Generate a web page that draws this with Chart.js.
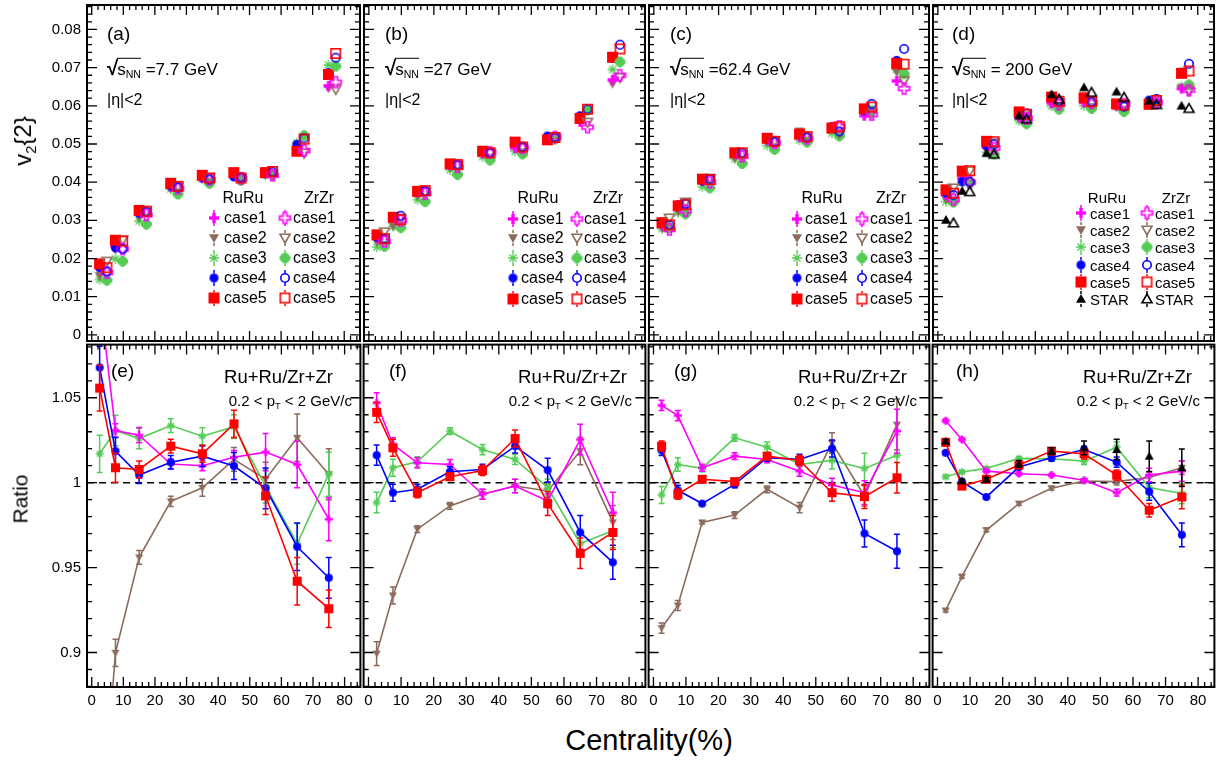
<!DOCTYPE html>
<html>
<head>
<meta charset="utf-8">
<script src="https://cdn.jsdelivr.net/npm/chart.js@4.4.1/dist/chart.umd.min.js"></script>
<style>
html, body { margin: 0; padding: 0; background: #fff; }
#wrap { position: relative; width: 1232px; height: 761px; overflow: hidden;
        font-family: "Liberation Sans", Arial, sans-serif; color: #000; }
#wrap canvas { position: absolute; }
.t { position: absolute; white-space: nowrap; line-height: 1; }
.t sub { font-size: 0.62em; vertical-align: -0.35em; line-height: 0; }
.ov { border-top: 1.5px solid #000; padding-top: 1px; margin-left: -1px; }
.rad { font-size: 1.2em; font-weight: bold; }
</style>
</head>
<body>
<div id="wrap"></div>
<script>
// centrality bin centres (%), ZrZr points are drawn shifted a little to the right
const cent = [2.5, 7.5, 15, 25, 35, 45, 55, 65, 75];
const zrShift = 2.3;

const xTicks = [0, 10, 20, 30, 40, 50, 60, 70, 80];
const xTickLabels = ["0", "10", "20", "30", "40", "50", "60", "70", "80"];
const v2Ticks = [0, 0.01, 0.02, 0.03, 0.04, 0.05, 0.06, 0.07, 0.08];
const v2TickLabels = ["0", "0.01", "0.02", "0.03", "0.04", "0.05", "0.06", "0.07", "0.08"];
const ratioTicks = [0.9, 0.95, 1, 1.05];
const ratioTickLabels = ["0.9", "0.95", "1", "1.05"];

const energies = ["=7.7 GeV", "=27 GeV", "=62.4 GeV", "= 200 GeV"];
const caseNames = ["case1", "case2", "case3", "case4", "case5", "STAR"];

// ---- v2{2}, 7.7 GeV ----
const ru1_77 = [0.0180, 0.0232, 0.0323, 0.0388, 0.0411, 0.0416, 0.0425, 0.0488, 0.0652];
const zr1_77 = [0.0163, 0.0225, 0.0314, 0.0384, 0.0407, 0.0410, 0.0418, 0.0483, 0.0662];
const ru2_77 = [0.0155, 0.0224, 0.0308, 0.0384, 0.0411, 0.0416, 0.0421, 0.0488, 0.0646];
const zr2_77 = [0.0193, 0.0249, 0.0322, 0.0388, 0.0412, 0.0410, 0.0420, 0.0476, 0.0643];
const ru3_77 = [0.0145, 0.0199, 0.0298, 0.0382, 0.0408, 0.0418, 0.0419, 0.0503, 0.0707];
const zr3_77 = [0.0143, 0.0193, 0.0290, 0.0369, 0.0397, 0.0405, 0.0420, 0.0522, 0.0704];
const ru4_77 = [0.0176, 0.0228, 0.0319, 0.0390, 0.0412, 0.0414, 0.0422, 0.0499, 0.0687];
const zr4_77 = [0.0166, 0.0225, 0.0323, 0.0386, 0.0407, 0.0412, 0.0427, 0.0515, 0.0726];
const ru5_77 = [0.0186, 0.0248, 0.0326, 0.0397, 0.0418, 0.0425, 0.0425, 0.0481, 0.0682];
const zr5_77 = [0.0176, 0.0246, 0.0324, 0.0389, 0.0411, 0.0411, 0.0428, 0.0513, 0.0737];

// ---- v2{2}, 27 GeV ----
const ru1_27 = [0.0256, 0.0307, 0.0374, 0.0445, 0.0475, 0.0489, 0.0513, 0.0558, 0.0668];
const zr1_27 = [0.0245, 0.0300, 0.0370, 0.0440, 0.0478, 0.0490, 0.0518, 0.0544, 0.0680];
const ru2_27 = [0.0243, 0.0285, 0.0364, 0.0438, 0.0473, 0.0489, 0.0513, 0.0567, 0.0658];
const zr2_27 = [0.0270, 0.0305, 0.0374, 0.0444, 0.0476, 0.0490, 0.0516, 0.0557, 0.0674];
const ru3_27 = [0.0230, 0.0284, 0.0354, 0.0432, 0.0467, 0.0481, 0.0512, 0.0568, 0.0695];
const zr3_27 = [0.0232, 0.0281, 0.0349, 0.0420, 0.0458, 0.0474, 0.0513, 0.0589, 0.0715];
const ru4_27 = [0.0256, 0.0310, 0.0375, 0.0449, 0.0481, 0.0503, 0.0521, 0.0574, 0.0724];
const zr4_27 = [0.0252, 0.0312, 0.0377, 0.0446, 0.0477, 0.0492, 0.0517, 0.0591, 0.0760];
const ru5_27 = [0.0262, 0.0308, 0.0376, 0.0448, 0.0481, 0.0505, 0.0511, 0.0567, 0.0727];
const zr5_27 = [0.0252, 0.0302, 0.0378, 0.0446, 0.0477, 0.0492, 0.0517, 0.0591, 0.0749];

// ---- v2{2}, 62.4 GeV ----
const ru1_62 = [0.0289, 0.0338, 0.0404, 0.0475, 0.0510, 0.0518, 0.0545, 0.0574, 0.0665];
const zr1_62 = [0.0276, 0.0325, 0.0400, 0.0468, 0.0503, 0.0515, 0.0546, 0.0577, 0.0645];
const ru2_62 = [0.0280, 0.0323, 0.0400, 0.0463, 0.0506, 0.0533, 0.0540, 0.0575, 0.0689];
const zr2_62 = [0.0306, 0.0348, 0.0410, 0.0472, 0.0508, 0.0520, 0.0528, 0.0580, 0.0666];
const ru3_62 = [0.0278, 0.0320, 0.0388, 0.0461, 0.0496, 0.0510, 0.0528, 0.0592, 0.0695];
const zr3_62 = [0.0280, 0.0317, 0.0385, 0.0449, 0.0486, 0.0505, 0.0521, 0.0587, 0.0684];
const ru4_62 = [0.0293, 0.0341, 0.0403, 0.0476, 0.0512, 0.0524, 0.0544, 0.0587, 0.0719];
const zr4_62 = [0.0288, 0.0343, 0.0408, 0.0477, 0.0505, 0.0517, 0.0533, 0.0605, 0.0749];
const ru5_62 = [0.0294, 0.0338, 0.0408, 0.0477, 0.0515, 0.0526, 0.0542, 0.0592, 0.0711];
const zr5_62 = [0.0288, 0.0341, 0.0407, 0.0477, 0.0507, 0.0519, 0.0545, 0.0597, 0.0709];

// ---- v2{2}, 200 GeV ----
const ru1_200 = [0.0367, 0.0410, 0.0492, 0.0570, 0.0607, 0.0609, 0.0600, 0.0611, 0.0645];
const zr1_200 = [0.0354, 0.0400, 0.0489, 0.0567, 0.0604, 0.0608, 0.0604, 0.0608, 0.0641];
const ru2_200 = [0.0356, 0.0406, 0.0489, 0.0567, 0.0604, 0.0607, 0.0600, 0.0607, 0.0646];
const zr2_200 = [0.0385, 0.0430, 0.0503, 0.0574, 0.0606, 0.0606, 0.0600, 0.0605, 0.0640];
const ru3_200 = [0.0349, 0.0400, 0.0478, 0.0561, 0.0599, 0.0600, 0.0597, 0.0606, 0.0651];
const zr3_200 = [0.0348, 0.0398, 0.0474, 0.0553, 0.0591, 0.0593, 0.0585, 0.0608, 0.0655];
const ru4_200 = [0.0372, 0.0401, 0.0495, 0.0585, 0.0621, 0.0622, 0.0605, 0.0615, 0.0688];
const zr4_200 = [0.0366, 0.0401, 0.0499, 0.0580, 0.0612, 0.0610, 0.0598, 0.0618, 0.0710];
const ru5_200 = [0.0380, 0.0429, 0.0507, 0.0584, 0.0623, 0.0621, 0.0605, 0.0604, 0.0685];
const zr5_200 = [0.0371, 0.0430, 0.0506, 0.0578, 0.0612, 0.0611, 0.0602, 0.0614, 0.0691];
const starRu_200 = [0.0301, 0.0377, 0.0476, 0.0574, 0.0630, 0.0648, 0.0637, 0.0613, 0.0600];
const starZr_200 = [0.0293, 0.0375, 0.0473, 0.0565, 0.0617, 0.0635, 0.0622, 0.0603, 0.0593];

// ---- Ru+Ru/Zr+Zr ratios and errors ----
const r1_77 = [1.110, 1.0307, 1.028, 1.011, 1.010, 1.015, 1.018, 1.0107, 0.9785];
const r2_77 = [0.780, 0.8998, 0.956, 0.989, 0.997, 1.0137, 1.002, 1.0264, 1.005];
const r3_77 = [1.017, 1.0307, 1.026, 1.0336, 1.0274, 1.033, 0.998, 0.964, 1.005];
const r4_77 = [1.0678, 1.0186, 1.0045, 1.012, 1.0156, 1.0098, 0.9967, 0.9623, 0.944];
const r5_77 = [1.0557, 1.0088, 1.0078, 1.0215, 1.017, 1.0346, 0.9922, 0.942, 0.9258];
const e1_77 = [0.012, 0.004, 0.0045, 0.003, 0.003, 0.004, 0.011, 0.0137, 0.0127];
const e2_77 = [0.020, 0.008, 0.004, 0.003, 0.005, 0.007, 0.010, 0.014, 0.015];
const e3_77 = [0.011, 0.009, 0.006, 0.004, 0.005, 0.007, 0.010, 0.012, 0.013];
const e4_77 = [0.0125, 0.008, 0.005, 0.004, 0.006, 0.008, 0.012, 0.014, 0.012];
const e5_77 = [0.0135, 0.0085, 0.005, 0.004, 0.005, 0.008, 0.011, 0.014, 0.011];

const r1_27 = [1.047, 1.0225, 1.0117, 1.0107, 0.9932, 0.998, 0.9893, 1.0254, 0.9824];
const r2_27 = [0.8994, 0.9336, 0.9726, 0.9863, 0.9932, 0.998, 0.9951, 1.0186, 0.9766];
const r3_27 = [0.9883, 1.0088, 1.0123, 1.0303, 1.0195, 1.0137, 0.9971, 0.9642, 0.9717];
const r4_27 = [1.0162, 0.9941, 0.9961, 1.0064, 1.0078, 1.0215, 1.0074, 0.9707, 0.9531];
const r5_27 = [1.0414, 1.0205, 0.9941, 1.0035, 1.0072, 1.026, 0.9877, 0.9584, 0.9707];
const e1_27 = [0.006, 0.004, 0.003, 0.003, 0.003, 0.004, 0.004, 0.009, 0.012];
const e2_27 = [0.007, 0.005, 0.002, 0.002, 0.003, 0.004, 0.004, 0.008, 0.010];
const e3_27 = [0.006, 0.005, 0.003, 0.002, 0.003, 0.003, 0.005, 0.007, 0.010];
const e4_27 = [0.006, 0.005, 0.003, 0.003, 0.003, 0.004, 0.007, 0.010, 0.010];
const e5_27 = [0.006, 0.005, 0.003, 0.002, 0.003, 0.005, 0.007, 0.009, 0.010];

const r1_62 = [1.0455, 1.0395, 1.0088, 1.0156, 1.0137, 1.0068, 0.9986, 0.9941, 1.0303];
const r2_62 = [0.9144, 0.9277, 0.9766, 0.9809, 0.9961, 0.9853, 1.0234, 0.9922, 1.0342];
const r3_62 = [0.9928, 1.0107, 1.0084, 1.0264, 1.0209, 1.0107, 1.0131, 1.0084, 1.0162];
const r4_62 = [1.019, 0.9955, 0.9877, 0.999, 1.0147, 1.0137, 1.0201, 0.9701, 0.9596];
const r5_62 = [1.0215, 0.9932, 1.002, 1.0006, 1.0156, 1.0131, 0.9941, 0.9918, 1.0029];
const e1_62 = [0.003, 0.003, 0.002, 0.002, 0.002, 0.003, 0.004, 0.007, 0.013];
const e2_62 = [0.003, 0.003, 0.001, 0.002, 0.002, 0.003, 0.006, 0.006, 0.015];
const e3_62 = [0.005, 0.004, 0.002, 0.002, 0.003, 0.003, 0.005, 0.009, 0.012];
const e4_62 = [0.003, 0.003, 0.001, 0.002, 0.002, 0.003, 0.005, 0.008, 0.010];
const e5_62 = [0.003, 0.003, 0.002, 0.002, 0.002, 0.003, 0.005, 0.007, 0.009];

const r1_200 = [1.0365, 1.0254, 1.0068, 1.0053, 1.0045, 1.0014, 0.9941, 1.0045, 1.0068];
const r2_200 = [0.9248, 0.9447, 0.9721, 0.9877, 0.9967, 1.001, 1.0006, 1.003, 1.0088];
const r3_200 = [1.0035, 1.0063, 1.0084, 1.0143, 1.0141, 1.0127, 1.0209, 0.9971, 0.9936];
const r4_200 = [1.0176, 1.0006, 0.9916, 1.0092, 1.0147, 1.0195, 1.0121, 0.9947, 0.9693];
const r5_200 = [1.0238, 0.998, 1.002, 1.0104, 1.0186, 1.017, 1.0045, 0.9838, 0.9916];
const rStar_200 = [1.0244, 1.001, 1.002, 1.0111, 1.0186, 1.0205, 1.0195, 1.0156, 1.0088];
const e1_200 = [0.001, 0.001, 0.001, 0.001, 0.001, 0.001, 0.002, 0.004, 0.006];
const e2_200 = [0.001, 0.001, 0.001, 0.001, 0.001, 0.001, 0.002, 0.003, 0.004];
const e3_200 = [0.001, 0.001, 0.001, 0.001, 0.001, 0.002, 0.003, 0.006, 0.006];
const e4_200 = [0.001, 0.001, 0.001, 0.001, 0.002, 0.002, 0.003, 0.005, 0.007];
const e5_200 = [0.002, 0.001, 0.001, 0.001, 0.002, 0.003, 0.003, 0.004, 0.007];
const eStar_200 = [0.001, 0.001, 0.001, 0.002, 0.002, 0.004, 0.006, 0.009, 0.011];

// ---- layout ----
const FONT = '"Liberation Sans", Arial, sans-serif';
const colL = [87, 362, 647, 931];
const colW = [275, 285, 284, 285];
const rowT = [3, 343];
const rowH = [340, 344];
const caseColors = ["#ff00ff", "#8b6b5b", "#55cc55", "#0000ff", "#ff0000", "#000000"];

const wrap = document.getElementById("wrap");

// ROOT-like marker glyphs, drawn once into small canvases
function marker(kind, color, s) {
  const c = document.createElement("canvas");
  const n = Math.ceil(s + 6);
  c.width = n; c.height = n;
  const g = c.getContext("2d");
  const m = n / 2, h = s / 2, t = s / 3;
  g.fillStyle = color; g.strokeStyle = color; g.lineWidth = 1.6;
  g.beginPath();
  if (kind === "sqF") g.fillRect(m - h, m - h, s, s);
  else if (kind === "sqO") g.strokeRect(m - h + 0.8, m - h + 0.8, s - 1.6, s - 1.6);
  else if (kind === "ciF") { g.arc(m, m, h, 0, 2 * Math.PI); g.fill(); }
  else if (kind === "ciO") { g.arc(m, m, h - 0.8, 0, 2 * Math.PI); g.stroke(); }
  else if (kind === "tdF" || kind === "tdO") {
    g.moveTo(m - h, m - h * 0.75); g.lineTo(m + h, m - h * 0.75); g.lineTo(m, m + h); g.closePath();
    kind === "tdF" ? g.fill() : g.stroke();
  } else if (kind === "tuF" || kind === "tuO") {
    g.moveTo(m - h, m + h * 0.75); g.lineTo(m + h, m + h * 0.75); g.lineTo(m, m - h); g.closePath();
    kind === "tuF" ? g.fill() : g.stroke();
  } else if (kind === "plF") {
    g.fillRect(m - t / 2, m - h, t, s); g.fillRect(m - h, m - t / 2, s, t);
  } else if (kind === "plO") {
    const a = t / 2;
    g.moveTo(m - a, m - h); g.lineTo(m + a, m - h); g.lineTo(m + a, m - a); g.lineTo(m + h, m - a);
    g.lineTo(m + h, m + a); g.lineTo(m + a, m + a); g.lineTo(m + a, m + h); g.lineTo(m - a, m + h);
    g.lineTo(m - a, m + a); g.lineTo(m - h, m + a); g.lineTo(m - h, m - a); g.lineTo(m - a, m - a);
    g.closePath(); g.stroke();
  } else if (kind === "stF") {
    g.fillRect(m - t / 2, m - h, t, s); g.fillRect(m - h, m - t / 2, s, t);
    g.translate(m, m); g.rotate(Math.PI / 4);
    g.fillRect(-t / 2, -h * 0.9, t, s * 0.9); g.fillRect(-h * 0.9, -t / 2, s * 0.9, t);
  } else if (kind === "stO") {
    g.lineWidth = 1.3;
    for (let k = 0; k < 4; k++) {
      const an = k * Math.PI / 4;
      g.moveTo(m - Math.cos(an) * h, m - Math.sin(an) * h);
      g.lineTo(m + Math.cos(an) * h, m + Math.sin(an) * h);
    }
    g.stroke();
  }
  return c;
}

const ruMk = [["plF", 10], ["tdF", 10], ["stO", 10], ["ciF", 9], ["sqF", 11], ["tuF", 10]];
const zrMk = [["plO", 11], ["tdO", 10], ["stF", 11], ["ciO", 10], ["sqO", 11], ["tuO", 10]];
const ratioMk = [["plF", 8], ["tdF", 8], ["stO", 8], ["ciF", 8], ["sqF", 9], ["tuF", 9]];

// legend boxes (page coordinates)
const legends = [
  { ruX: 214, zrX: 285, ruT: 224, zrT: 293, ruH: 243, zrH: 319, headY: 198, rows: [218, 238, 258, 278, 298], fs: 16 },
  { ruX: 513, zrX: 577, ruT: 521, zrT: 584, ruH: 538, zrH: 608, headY: 198, rows: [219, 238, 258, 278, 299], fs: 16 },
  { ruX: 797, zrX: 862, ruT: 805, zrT: 870, ruH: 822, zrH: 891, headY: 198, rows: [219, 238, 258, 278, 299], fs: 16 },
  { ruX: 1081, zrX: 1147, ruT: 1090, zrT: 1155, ruH: 1107, zrH: 1176, headY: 197, rows: [213, 230, 247, 265, 282, 299], fs: 15 }
];
const panelInfo = [];

const rootFrame = {
  id: "rootFrame",
  beforeDatasetsDraw(chart, args, opts) {
    if (!opts.unity) return;
    const { ctx, chartArea: a } = chart;
    const y = chart.scales.y.getPixelForValue(1);
    ctx.save();
    ctx.strokeStyle = "#000"; ctx.lineWidth = 1.6; ctx.setLineDash([7, 5]);
    ctx.beginPath(); ctx.moveTo(a.left, y); ctx.lineTo(a.right, y); ctx.stroke();
    ctx.restore();
  },
  beforeDatasetDraw(chart, args) {
    const ds = chart.data.datasets[args.index];
    if (!ds.errs) return;
    const { ctx, chartArea: a } = chart;
    const xs = chart.scales.x, ys = chart.scales.y;
    ctx.save();
    ctx.beginPath(); ctx.rect(a.left, a.top, a.right - a.left, a.bottom - a.top); ctx.clip();
    ctx.strokeStyle = ds.errColor; ctx.lineWidth = 1.5;
    ctx.beginPath();
    ds.data.forEach((p, i) => {
      const e = ds.errs[i];
      const x = xs.getPixelForValue(p.x);
      const y1 = ys.getPixelForValue(p.y - e), y2 = ys.getPixelForValue(p.y + e);
      ctx.moveTo(x, y1); ctx.lineTo(x, y2);
      ctx.moveTo(x - 3, y1); ctx.lineTo(x + 3, y1);
      ctx.moveTo(x - 3, y2); ctx.lineTo(x + 3, y2);
    });
    ctx.stroke();
    ctx.restore();
  },
  afterDatasetsDraw(chart, args, opts) {
    const { ctx, chartArea: a } = chart;
    const xs = chart.scales.x, ys = chart.scales.y;
    ctx.save();
    ctx.strokeStyle = "#000";
    ctx.lineWidth = 1.3;
    ctx.beginPath();
    for (let v = 0; v <= 84; v += 2) {
      const px = xs.getPixelForValue(v), len = v % 10 === 0 ? 10 : 5;
      ctx.moveTo(px, a.bottom); ctx.lineTo(px, a.bottom - len);
      ctx.moveTo(px, a.top); ctx.lineTo(px, a.top + len);
    }
    const step = opts.unity ? 0.01 : 0.002;
    const start = opts.unity ? 88 : 0, end = opts.unity ? 108 : 43;
    for (let k = start; k <= end; k++) {
      const v = k * step, py = ys.getPixelForValue(v);
      const len = k % 5 === 0 ? 10 : 5;
      ctx.moveTo(a.left, py); ctx.lineTo(a.left + len, py);
      ctx.moveTo(a.right, py); ctx.lineTo(a.right - len, py);
    }
    ctx.stroke();
    ctx.lineWidth = 2;
    ctx.strokeRect(a.left, a.top, a.right - a.left, a.bottom - a.top);
    // legend glyphs
    const info = panelInfo[opts.idx];
    if (info && info.legend) {
      const lg = info.legend;
      lg.rows.forEach((ry, i) => {
        [[lg.ruX, ruMk[i]], [lg.zrX, zrMk[i]]].forEach(([lx, mk]) => {
          const x = lx - info.ox, y = ry - info.oy, hs = mk[1] / 2;
          ctx.strokeStyle = caseColors[i]; ctx.lineWidth = 1.5;
          ctx.beginPath();
          ctx.moveTo(x, y - 8); ctx.lineTo(x, y - hs);
          ctx.moveTo(x, y + hs); ctx.lineTo(x, y + 8);
          ctx.stroke();
          const img = marker(mk[0], caseColors[i], mk[1]);
          ctx.drawImage(img, x - img.width / 2, y - img.height / 2);
        });
      });
    }
    ctx.restore();
  }
};

function makePanel(col, row, datasets, yMin, yMax, yTicks, yLabels, legend) {
  const L = colL[col], T = rowT[row], W = colW[col], H = rowH[row];
  const showY = col === 0, showX = row === 1;
  const padL = showY ? 80 : 4, padR = 4, padT = 4, padB = showX ? 32 : 4;
  const cw = W + padL + padR, ch = H + padT + padB;
  const cv = document.createElement("canvas");
  cv.width = cw; cv.height = ch;
  cv.style.left = (L - padL) + "px"; cv.style.top = (T - padT) + "px";
  cv.style.width = cw + "px"; cv.style.height = ch + "px";
  wrap.appendChild(cv);
  const idx = panelInfo.length;
  panelInfo.push({ legend, ox: L - padL, oy: T - padT });
  const font = { family: FONT, size: 15 };
  new Chart(cv, {
    type: "scatter",
    data: { datasets },
    options: {
      responsive: false, animation: false, events: [],
      layout: { padding: { left: showY ? 0 : padL, right: padR, top: padT, bottom: showX ? 0 : padB } },
      plugins: { legend: { display: false }, tooltip: { enabled: false }, rootFrame: { idx, unity: row === 1 } },
      scales: {
        x: {
          type: "linear", min: -1.5, max: 85, display: showX,
          grid: { display: false, drawTicks: false }, border: { display: false },
          afterBuildTicks: s => { s.ticks = xTicks.map(v => ({ value: v })); },
          ticks: { font, color: "#000", padding: 5, maxRotation: 0, autoSkip: false,
                   callback: (v, i) => xTickLabels[i] },
          afterFit: s => { s.height = showX ? padB : 0; s.paddingLeft = 0; s.paddingRight = 0; }
        },
        y: {
          type: "linear", min: yMin, max: yMax, display: showY,
          grid: { display: false, drawTicks: false }, border: { display: false },
          afterBuildTicks: s => { s.ticks = yTicks.map(v => ({ value: v })); },
          ticks: { font, color: "#000", padding: 6, autoSkip: false,
                   callback: (v, i) => yLabels[i] },
          afterFit: s => { s.width = showY ? padL : 0; s.paddingTop = 0; s.paddingBottom = 0; }
        }
      }
    },
    plugins: [rootFrame]
  });
}

function pts(vals, shift) {
  return vals.map((v, i) => ({ x: cent[i] + shift, y: v }));
}

function topSets(ru, zr) {
  const drawOrder = [2, 1, 0, 3, 4];
  const out = [];
  drawOrder.forEach(i => out.push({ data: pts(ru[i], 0), pointStyle: marker(ruMk[i][0], caseColors[i], ruMk[i][1]) }));
  drawOrder.forEach(i => out.push({ data: pts(zr[i], zrShift), pointStyle: marker(zrMk[i][0], caseColors[i], zrMk[i][1]) }));
  if (ru[5]) {
    out.push({ data: pts(ru[5], 0), pointStyle: marker(ruMk[5][0], caseColors[5], ruMk[5][1]) });
    out.push({ data: pts(zr[5], zrShift), pointStyle: marker(zrMk[5][0], caseColors[5], zrMk[5][1]) });
  }
  return out.map((d, k) => Object.assign(d, { showLine: false, pointRadius: 5, order: -k }));
}

function ratioSets(rs, es) {
  const drawOrder = [1, 2, 0, 3, 4, 5];
  const out = [];
  drawOrder.forEach(i => {
    if (!rs[i]) return;
    out.push({
      data: pts(rs[i], 0),
      errs: es[i], errColor: caseColors[i],
      pointStyle: marker(ratioMk[i][0], caseColors[i], ratioMk[i][1]),
      pointRadius: 4,
      showLine: i !== 5, borderColor: caseColors[i], borderWidth: 1.6
    });
  });
  return out.map((d, k) => Object.assign(d, { order: -k }));
}

const topRu = [
  [ru1_77, ru2_77, ru3_77, ru4_77, ru5_77],
  [ru1_27, ru2_27, ru3_27, ru4_27, ru5_27],
  [ru1_62, ru2_62, ru3_62, ru4_62, ru5_62],
  [ru1_200, ru2_200, ru3_200, ru4_200, ru5_200, starRu_200]
];
const topZr = [
  [zr1_77, zr2_77, zr3_77, zr4_77, zr5_77],
  [zr1_27, zr2_27, zr3_27, zr4_27, zr5_27],
  [zr1_62, zr2_62, zr3_62, zr4_62, zr5_62],
  [zr1_200, zr2_200, zr3_200, zr4_200, zr5_200, starZr_200]
];
const ratios = [
  [r1_77, r2_77, r3_77, r4_77, r5_77],
  [r1_27, r2_27, r3_27, r4_27, r5_27],
  [r1_62, r2_62, r3_62, r4_62, r5_62],
  [r1_200, r2_200, r3_200, r4_200, r5_200, rStar_200]
];
const ratioErrs = [
  [e1_77, e2_77, e3_77, e4_77, e5_77],
  [e1_27, e2_27, e3_27, e4_27, e5_27],
  [e1_62, e2_62, e3_62, e4_62, e5_62],
  [e1_200, e2_200, e3_200, e4_200, e5_200, eStar_200]
];

for (let p = 0; p < 4; p++) {
  makePanel(p, 0, topSets(topRu[p], topZr[p]), -0.0016, 0.0864, v2Ticks, v2TickLabels, legends[p]);
  makePanel(p, 1, ratioSets(ratios[p], ratioErrs[p]), 0.8797, 1.0813, ratioTicks, ratioTickLabels, null);
}

// ---- text ----
function txt(html, x, y, size, align, rot) {
  const d = document.createElement("div");
  d.className = "t";
  d.innerHTML = html;
  d.style.left = x + "px"; d.style.top = y + "px"; d.style.fontSize = size + "px";
  const tx = align === "right" ? "-100%" : align === "center" ? "-50%" : "0";
  d.style.transform = `translate(${tx},-50%)` + (rot ? " rotate(-90deg)" : "");
  wrap.appendChild(d);
}

const topTags = ["(a)", "(b)", "(c)", "(d)"];
const botTags = ["(e)", "(f)", "(g)", "(h)"];
const tagDx = [20, 23, 23, 21];
const ruRight = [246, 265, 260, 261];
const ptRight = [265, 270, 270, 269];

for (let p = 0; p < 4; p++) {
  const L = colL[p];
  txt(topTags[p], L + tagDx[p], 33, 19);
  txt(`<span class="rad">√</span><span class="ov">s<sub>NN</sub></span> ${energies[p]}`, L + tagDx[p], 68, 17);
  txt("|η|&lt;2", L + tagDx[p], 100, 16);
  const lg = legends[p];
  txt("RuRu", lg.ruH, lg.headY, lg.fs, "center");
  txt("ZrZr", lg.zrH, lg.headY, lg.fs, "center");
  lg.rows.forEach((ry, i) => {
    txt(caseNames[i], lg.ruT, ry, lg.fs);
    txt(caseNames[i], lg.zrT, ry, lg.fs);
  });
  txt(botTags[p], L + tagDx[p] + 4, 370, 19);
  txt("Ru+Ru/Zr+Zr", L + ruRight[p], 377, 18.5, "right");
  txt("0.2 &lt; p<sub>T</sub> &lt; 2 GeV/c", L + ptRight[p], 400, 15, "right");
}

txt("v<sub>2</sub>{2}", 23, 141, 24, "center", true);
txt("Ratio", 20, 499, 21, "center", true);
txt("Centrality(%)", 649, 740, 29, "center");
</script>
</body>
</html>
